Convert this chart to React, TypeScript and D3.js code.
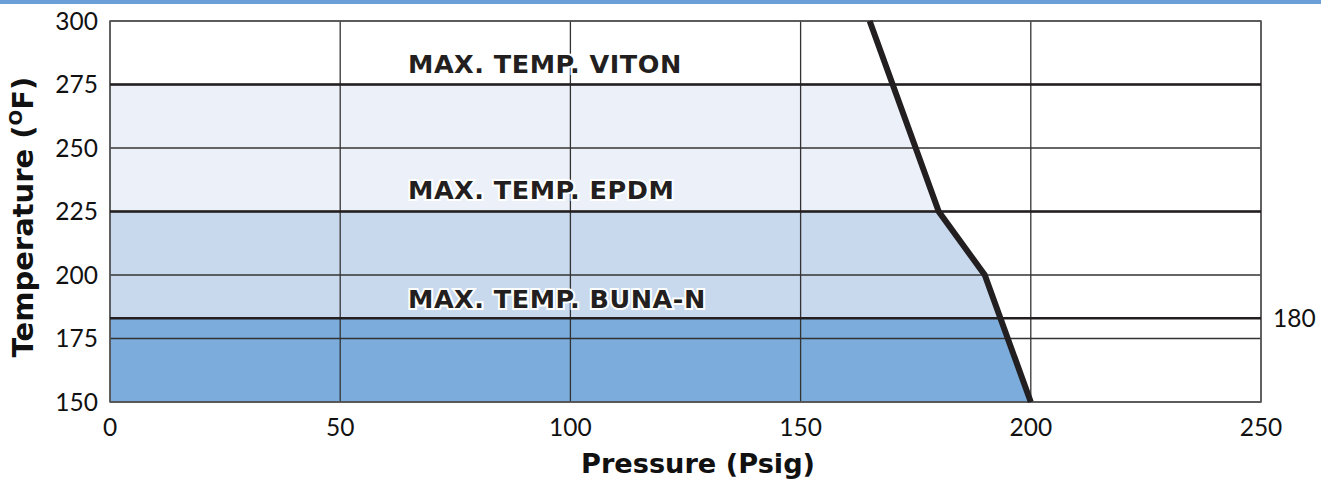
import React from 'react';
import * as d3 from 'd3';

// limit curve (temperature -> pressure)
const curveTemps = [150, 200, 225, 300];
const curvePressures = [200, 190, 180, 165];

// max temperature per seal material
const materials = ['VITON', 'EPDM', 'BUNA-N'];
const maxTemps = [275, 225, 183];
const bandColors = ['#ecf1f9', '#c8d9ee', '#7bacdc'];

const xTicks = [0, 50, 100, 150, 200, 250];
const yTicks = [150, 175, 200, 225, 250, 275, 300];
const sideLabel = '180';

const W = 1321;
const H = 479;
const margin = { top: 21, right: 60, bottom: 77, left: 110 };
const font = 'Lato, "Open Sans", sans-serif';
const boldFont = '"DejaVu Sans", Verdana, sans-serif';

const App: React.FC = () => {
  const x = d3.scaleLinear().domain([0, 250]).range([margin.left, W - margin.right]);
  const y = d3.scaleLinear().domain([150, 300]).range([H - margin.bottom, margin.top]);
  const limit = d3.scaleLinear().domain(curveTemps).range(curvePressures);

  const bandPath = (lo: number, hi: number) => {
    const temps = [hi, ...curveTemps.filter(t => t > lo && t < hi).reverse(), lo];
    const pts: [number, number][] = [[x(0), y(hi)]];
    temps.forEach(t => pts.push([x(limit(t)), y(t)]));
    pts.push([x(0), y(lo)]);
    return d3.line()(pts) + 'Z';
  };

  const bands = maxTemps.map((hi, i) => ({ hi, lo: i < maxTemps.length - 1 ? maxTemps[i + 1] : 150, color: bandColors[i] }));

  const curve = d3.line<number>()
    .x(t => x(limit(t)))
    .y(t => y(t))(curveTemps);

  const labelY = [73, 199, 308];

  return (
    <svg width={W} height={H} style={{ position: 'absolute', left: 0, top: 0 }}>
      <rect x={0} y={0} width={W} height={4} fill="#6a9fd8" />
      {bands.map((b, i) => (
        <path key={i} d={bandPath(b.lo, b.hi)} fill={b.color} />
      ))}
      {xTicks.map(t => (
        <line key={'gx' + t} x1={x(t)} x2={x(t)} y1={y(150)} y2={y(300)} stroke="#333" strokeWidth={1.3} />
      ))}
      {yTicks.map(t => (
        <line key={'gy' + t} x1={x(0)} x2={x(250)} y1={y(t)} y2={y(t)} stroke="#333" strokeWidth={1.3} />
      ))}
      <rect x={x(0)} y={y(300)} width={x(250) - x(0)} height={y(150) - y(300)} fill="none" stroke="#5a5a5a" strokeWidth={1.5} />
      {maxTemps.map(t => (
        <line key={'m' + t} x1={x(0)} x2={x(250)} y1={y(t)} y2={y(t)} stroke="#231f20" strokeWidth={2.5} />
      ))}
      <path d={curve ?? ''} fill="none" stroke="#231f20" strokeWidth={6} />
      {materials.map((m, i) => (
        <text key={m} x={408} y={labelY[i]} fontFamily={boldFont} fontWeight={700} fontSize={25.5}
          fill="#231f20" stroke="#fff" strokeWidth={4} paintOrder="stroke" letterSpacing={0.5}>
          MAX. TEMP. {m}
        </text>
      ))}
      {yTicks.map(t => (
        <text key={'yl' + t} x={98} y={y(t)} dy="0.36em" textAnchor="end" fontFamily={font} fontSize={24.5} fill="#111">
          {t}
        </text>
      ))}
      {xTicks.map(t => (
        <text key={'xl' + t} x={x(t)} y={436} textAnchor="middle" fontFamily={font} fontSize={24.5} fill="#111">
          {t}
        </text>
      ))}
      <text x={1273} y={y(maxTemps[2])} dy="0.36em" fontFamily={font} fontSize={24.5} fill="#111">
        {sideLabel}
      </text>
      <text x={698} y={473} textAnchor="middle" fontFamily={boldFont} fontWeight={700} fontSize={27.2} fill="#111">
        Pressure (Psig)
      </text>
      <text transform={`translate(33,217) rotate(-90)`} textAnchor="middle" fontFamily={boldFont} fontWeight={700}
        fontSize={29} fill="#111">
        Temperature (<tspan fontSize={18.5} dy={-11}>O</tspan><tspan dy={11}>F)</tspan>
      </text>
    </svg>
  );
};

export default App;
